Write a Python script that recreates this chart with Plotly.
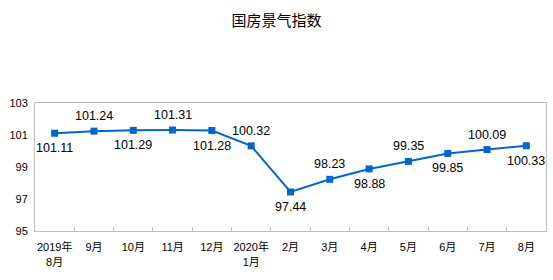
import plotly.graph_objects as go

categories = ["2019年<br>8月", "9月", "10月", "11月", "12月", "2020年<br>1月",
              "2月", "3月", "4月", "5月", "6月", "7月", "8月"]
values = [101.11, 101.24, 101.29, 101.31, 101.28, 100.32,
          97.44, 98.23, 98.88, 99.35, 99.85, 100.09, 100.33]
label_above = [False, True, False, True, False, True, False, True, False, True, False, True, False]
y_ticks = [95, 97, 99, 101, 103]

color = "#0066CC"
fig = go.Figure(go.Scatter(
    x=categories, y=values, mode="lines+markers",
    line=dict(color=color, width=2),
    marker=dict(symbol="square", size=7, color=color),
    showlegend=False,
))
for c, v, up in zip(categories, values, label_above):
    fig.add_annotation(x=c, y=v, text=f"{v:.2f}", showarrow=False,
                       yshift=15 if up else -15, xanchor="center", yanchor="middle",
                       font=dict(family="Liberation Sans, Arial", size=12.5, color="#000000"))
fig.update_layout(
    width=553, height=280, margin=dict(l=35, r=7, t=103, b=49),
    paper_bgcolor="white", plot_bgcolor="white",
    title=dict(text="国房景气指数", x=0.5, xanchor="center", y=0.925, yanchor="middle",
               font=dict(family="Noto Sans CJK SC", size=15, color="#000000")),
    font=dict(family="Liberation Sans, Noto Sans CJK SC", size=11, color="#000000"),
)
fig.update_xaxes(type="category", showline=True, linecolor="#BFBFBF", linewidth=1, mirror=True,
                 ticks="inside", ticklen=4, tickcolor="#BFBFBF", tickson="boundaries",
                 showgrid=False, tickfont=dict(family="Liberation Sans, Noto Sans CJK SC", size=11),
                 tickangle=0, range=[-0.5, 12.5], ticklabelstandoff=6)
fig.update_yaxes(range=[95, 103], tickvals=y_ticks, showline=True, linecolor="#BFBFBF",
                 linewidth=1, mirror=True, showgrid=False, zeroline=False, ticks="",
                 tickfont=dict(family="Liberation Sans, Arial", size=11), ticklabelstandoff=4)
fig.write_html("out.html")
